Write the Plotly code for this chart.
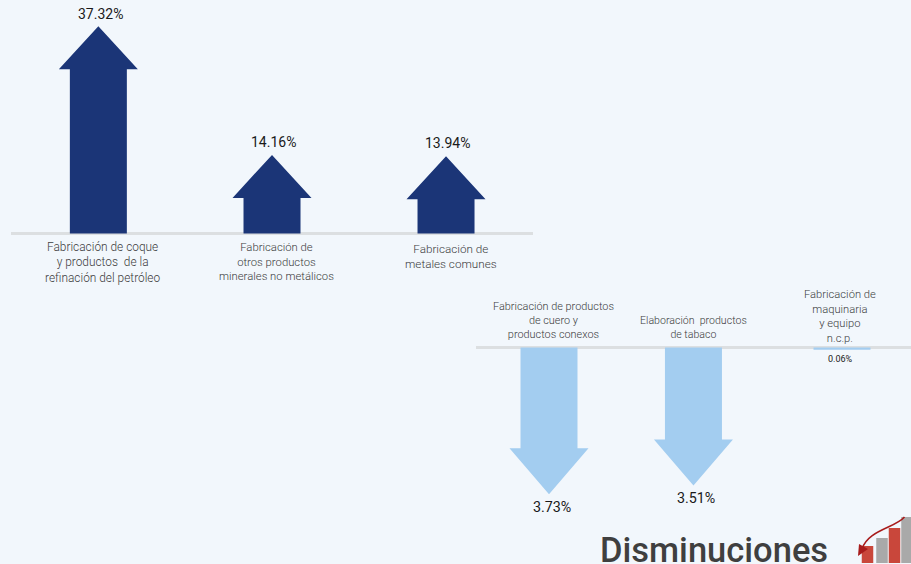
import plotly.graph_objects as go

# ---- data ----
up_categories = [
    "Fabricación de coque<br>y productos  de la<br>refinación del petróleo",
    "Fabricación de<br>otros productos<br>minerales no metálicos",
    "Fabricación de<br>metales comunes",
]
up_values = [37.32, 14.16, 13.94]
up_labels = ["37.32%", "14.16%", "13.94%"]

down_categories = [
    "Fabricación de productos<br>de cuero y<br>productos conexos",
    "Elaboración  productos<br>de tabaco",
    "Fabricación de<br>maquinaria<br>y equipo<br>n.c.p.",
]
down_values = [3.73, 3.51, 0.06]
down_labels = ["3.73%", "3.51%", "0.06%"]

icon_heights = [17, 25, 35, 46]

# ---- styling / geometry ----
W, H = 911, 564
BG = "#f2f7fc"
NAVY = "#1b3577"
SKY = "#a3cdf0"
GRID = "#dcdfe1"
FONT = "Roboto Light, Roboto"
TXT = "#3c3c3c"

UP_SCALE, DOWN_SCALE = 5.55, 39.35      # px per percentage point
UP_ZERO, DOWN_ZERO = 233.5, 347.5       # baseline pixel rows
UP_STEP, DOWN_STEP = 174.0, 146.5       # px between categories
HALF_HEAD, HALF_SHAFT = 39.5, 28.5
UP_HEAD, DOWN_HEAD = 43.0, 46.0
UP_POS = [0.002, 1, 2]
DOWN_POS = [0, 0.986, 2]


def arrow(center, value, step, scale, head_px):
    """Polygon of an arrow from baseline 0 to value; flat bar if too short for a head."""
    hw, sw = HALF_HEAD / step, HALF_SHAFT / step
    if value * scale <= head_px:
        return ([center - sw, center + sw, center + sw, center - sw, center - sw],
                [0, 0, value, value, 0])
    neck = value - head_px / scale
    return ([center - sw, center - sw, center - hw, center, center + hw, center + sw, center + sw, center - sw],
            [0, neck, neck, value, neck, neck, 0, 0])


fig = go.Figure()
for p, v in zip(UP_POS, up_values):
    xs, ys = arrow(p, v, UP_STEP, UP_SCALE, UP_HEAD)
    fig.add_trace(go.Scatter(x=xs, y=ys, mode="lines", fill="toself", fillcolor=NAVY,
                             line=dict(width=0, color=NAVY), xaxis="x", yaxis="y",
                             hoverinfo="skip", showlegend=False))
for p, v in zip(DOWN_POS, down_values):
    xs, ys = arrow(p, v, DOWN_STEP, DOWN_SCALE, DOWN_HEAD)
    fig.add_trace(go.Scatter(x=xs, y=ys, mode="lines", fill="toself", fillcolor=SKY,
                             line=dict(width=0, color=SKY), xaxis="x2", yaxis="y2",
                             hoverinfo="skip", showlegend=False))

# icon
icon_x = [867.5, 882, 894.5, 907]
fig.add_trace(go.Bar(x=icon_x, y=[-h for h in icon_heights], base=563, width=11.5,
                     marker=dict(color=["#c9473b", "#a9a9a9", "#c9473b", "#a9a9a9"], line=dict(width=0)),
                     xaxis="x3", yaxis="y3", hoverinfo="skip", showlegend=False))

annotations = []
up_label_shift = [(2, 12), (1, 13), (1, 13)]
for p, v, t, s in zip(UP_POS, up_values, up_labels, up_label_shift):
    annotations.append(dict(x=p, y=v, xref="x", yref="y", text=t, showarrow=False,
                            xshift=s[0], yshift=s[1],
                            font=dict(family="Roboto", size=14, color="#1a1a1a")))
down_label_shift = [(3, -13), (3, -12), (-2, -9)]
down_label_size = [14.3, 14.3, 9]
for p, v, t, s, z in zip(DOWN_POS, down_values, down_labels, down_label_shift, down_label_size):
    annotations.append(dict(x=p, y=v, xref="x2", yref="y2", text=t, showarrow=False,
                            xshift=s[0], yshift=s[1],
                            font=dict(family="Roboto", size=z, color="#1a1a1a")))
up_cat_shift = [(4.5, -28.5), (4, -28.5), (4.5, -22.5)]
up_cat_size = [11.9, 11.3, 11.7]
for p, t, s, z in zip(UP_POS, up_categories, up_cat_shift, up_cat_size):
    annotations.append(dict(x=p, y=0, xref="x", yref="y", text=t, showarrow=False,
                            xshift=s[0], yshift=s[1],
                            font=dict(family=FONT, size=z, color=TXT)))
down_cat_shift = [(4, 27.5), (0.5, 20.5), (-2, 31.5)]
down_cat_size = [10.9, 10.6, 11.2]
for p, t, s, z in zip(DOWN_POS, down_categories, down_cat_shift, down_cat_size):
    annotations.append(dict(x=p, y=0, xref="x2", yref="y2", text=t, showarrow=False,
                            xshift=s[0], yshift=s[1],
                            font=dict(family=FONT, size=z, color=TXT)))
annotations.append(dict(x=597.5, y=550, xref="x3", yref="y3", xanchor="left", yanchor="middle",
                        text="Disminuciones", showarrow=False,
                        font=dict(family="Roboto", size=34.5, color="#3f3f3f", weight=500)))

fig.update_layout(
    width=W, height=H, margin=dict(l=0, r=0, t=0, b=0),
    paper_bgcolor=BG, plot_bgcolor="rgba(0,0,0,0)", showlegend=False,
    annotations=annotations,
    shapes=[
        dict(type="path", xref="x3", yref="y3", layer="above",
             path="M 904.5 517 C 895 528, 868 530, 862 549", line=dict(color="#a81c1c", width=1.6)),
        dict(type="path", xref="x3", yref="y3", layer="above",
             path="M 858 556 L 859 544 L 868 549 Z", fillcolor="#a81c1c", line=dict(width=0)),
    ],
    xaxis=dict(domain=[11 / W, 532.5 / W], range=[-0.5, 2.497], visible=False, anchor="y"),
    yaxis=dict(domain=[0, 1], range=[-(H - UP_ZERO) / UP_SCALE, UP_ZERO / UP_SCALE], anchor="x",
               showgrid=False, showticklabels=False, ticks="", showline=False,
               zeroline=True, zerolinecolor=GRID, zerolinewidth=2.5),
    xaxis2=dict(domain=[476 / W, 1], range=[-0.4983, 2.471], visible=False, anchor="y2"),
    yaxis2=dict(domain=[0, 1], range=[(H - DOWN_ZERO) / DOWN_SCALE, -DOWN_ZERO / DOWN_SCALE], anchor="x2",
                showgrid=False, showticklabels=False, ticks="", showline=False,
                zeroline=True, zerolinecolor=GRID, zerolinewidth=2.5),
    xaxis3=dict(domain=[0, 1], range=[0, W], visible=False, anchor="y3"),
    yaxis3=dict(domain=[0, 1], range=[H, 0], visible=False, anchor="x3"),
)

fig.write_html("out.html", config=dict(displayModeBar=False),
               post_script="document.body.style.margin='0';document.body.style.overflow='hidden';")
